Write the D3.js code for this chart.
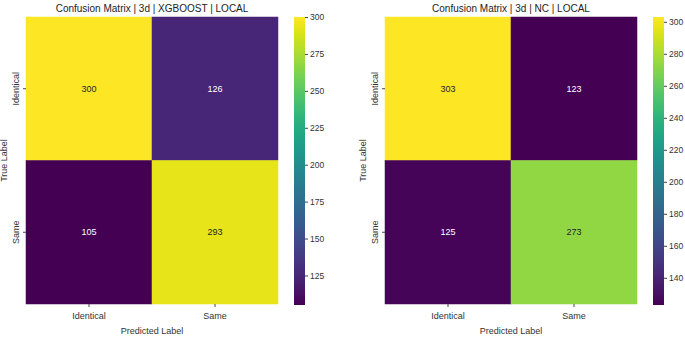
<!DOCTYPE html>
<html>
<head>
<meta charset="utf-8">
<script src="https://cdn.jsdelivr.net/npm/d3@7"></script>
<style>
  body { margin: 0; background: #fff; }
  text { font-family: "Liberation Sans", Arial, sans-serif; }
</style>
</head>
<body>
<div id="chart"></div>
<script>
// class labels (rows = true, cols = predicted)
const labels = ["Identical", "Same"]

const xgbTitle = "Confusion Matrix | 3d | XGBOOST | LOCAL"
const xgbValues = [[300, 126], [105, 293]]
const xgbTicks = [125, 150, 175, 200, 225, 250, 275, 300]

const ncTitle = "Confusion Matrix | 3d | NC | LOCAL"
const ncValues = [[303, 123], [125, 273]]
const ncTicks = [140, 160, 180, 200, 220, 240, 260, 280, 300]

const W = 685, H = 338

const svg = d3.select("#chart")
  .append("svg")
    .attr("width", W)
    .attr("height", H)

function drawMatrix(left, title, values, ticks) {
  const width = 252, height = 287, top = 17
  const g = svg.append("g").attr("transform", `translate(${left}, ${top})`)

  const flat = values.flat()
  const color = d3.scaleSequential(d3.interpolateViridis)
    .domain([d3.min(flat), d3.max(flat)])

  const x = d3.scaleBand().domain(labels).range([0, width])
  const y = d3.scaleBand().domain(labels).range([0, height])

  const cells = []
  values.forEach((row, i) => row.forEach((v, j) => {
    cells.push({ t: labels[i], p: labels[j], v: v })
  }))

  g.selectAll("rect.cell")
    .data(cells)
    .enter()
    .append("rect")
      .attr("class", "cell")
      .attr("x", d => x(d.p))
      .attr("y", d => y(d.t))
      .attr("width", x.bandwidth())
      .attr("height", y.bandwidth())
      .attr("fill", d => color(d.v))
      .attr("stroke", d => color(d.v))
      .attr("stroke-width", 0.5)

  g.selectAll("text.ann")
    .data(cells)
    .enter()
    .append("text")
      .attr("class", "ann")
      .attr("x", d => x(d.p) + x.bandwidth() / 2)
      .attr("y", d => y(d.t) + y.bandwidth() / 2)
      .attr("text-anchor", "middle")
      .attr("dominant-baseline", "central")
      .attr("font-size", 9)
      .attr("fill", d => d3.hsl(color(d.v)).l > 0.5 ? "#262626" : "#fff")
      .text(d => d.v)

  // axes
  const xAxis = g.append("g")
    .attr("transform", `translate(0, ${height})`)
    .call(d3.axisBottom(x).tickSize(3).tickPadding(6))
  xAxis.select(".domain").remove()
  xAxis.selectAll("text").attr("font-size", 9).attr("fill", "#333")
  xAxis.selectAll("line").attr("stroke", "#444")

  const yAxis = g.append("g")
    .call(d3.axisLeft(y).tickSize(3).tickPadding(0))
  yAxis.select(".domain").remove()
  yAxis.selectAll("line").attr("stroke", "#444")
  yAxis.selectAll(".tick text")
    .attr("font-size", 9)
    .attr("fill", "#333")
    .attr("text-anchor", "middle")
    .attr("x", 0)
    .attr("y", 0)
    .attr("dy", 0)
    .attr("transform", "translate(-7, 0) rotate(-90)")

  g.append("text")
    .attr("x", width / 2)
    .attr("y", height + 30)
    .attr("text-anchor", "middle")
    .attr("font-size", 9)
    .attr("fill", "#333")
    .text("Predicted Label")

  g.append("text")
    .attr("transform", `translate(-19, ${height / 2}) rotate(-90)`)
    .attr("text-anchor", "middle")
    .attr("font-size", 9)
    .attr("fill", "#333")
    .text("True Label")

  g.append("text")
    .attr("x", width / 2)
    .attr("y", -5)
    .attr("text-anchor", "middle")
    .attr("font-size", 10)
    .attr("fill", "#222")
    .text(title)

  // colorbar
  const cbX = width + 16, cbW = 11, cbH = 288
  const cbScale = d3.scaleLinear().domain(color.domain()).range([cbH, 0])
  const steps = d3.range(0, 1.0001, 0.01)
  const gradId = "grad" + left
  const grad = svg.append("defs").append("linearGradient")
    .attr("id", gradId)
    .attr("x1", 0).attr("y1", 1).attr("x2", 0).attr("y2", 0)
  grad.selectAll("stop")
    .data(steps)
    .enter()
    .append("stop")
      .attr("offset", d => d)
      .attr("stop-color", d => d3.interpolateViridis(d))

  const cb = g.append("g").attr("transform", `translate(${cbX}, 0)`)
  cb.append("rect")
    .attr("width", cbW)
    .attr("height", cbH)
    .attr("fill", `url(#${gradId})`)
  const cbAxis = cb.append("g")
    .attr("transform", `translate(${cbW}, 0)`)
    .call(d3.axisRight(cbScale).tickValues(ticks).tickSize(3).tickPadding(2))
  cbAxis.select(".domain").remove()
  cbAxis.selectAll("text").attr("font-size", 8.5).attr("fill", "#333")
  cbAxis.selectAll("line").attr("stroke", "#444")
}

drawMatrix(26, xgbTitle, xgbValues, xgbTicks)
drawMatrix(385, ncTitle, ncValues, ncTicks)
</script>
</body>
</html>
